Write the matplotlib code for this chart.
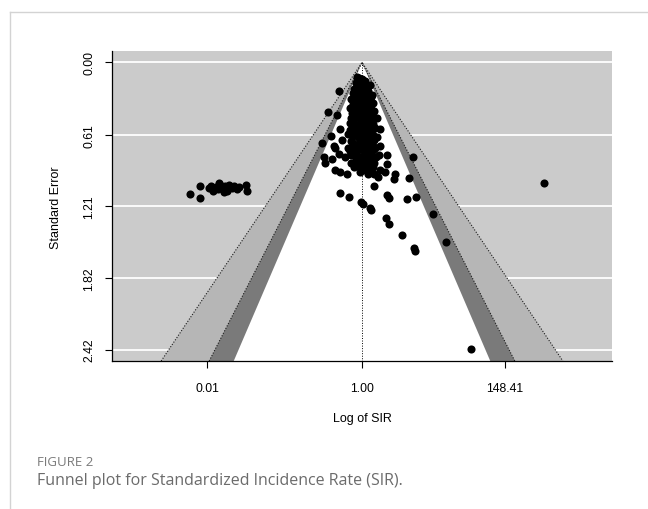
import matplotlib
matplotlib.use("Agg")
import matplotlib.pyplot as plt
from matplotlib.lines import Line2D

plt.rcParams['font.family'] = ['Liberation Sans', 'DejaVu Sans']

# studies: log(SIR) and standard error
# dense group around the apex
blob_log = [-0.10, 0.00, -0.20, 0.05, -0.12, 0.15, -0.25, 0.00, 0.20, -0.30,
            -0.08, 0.10, 0.30, -0.20, 0.02, -0.35, 0.18, -0.12, 0.35, -0.28,
            0.05, 0.25, -0.40, -0.05, 0.12, -0.22, 0.40, 0.00, -0.32, 0.22,
            -0.10, 0.08, 0.35, -0.25, -0.02, 0.18, -0.38, 0.28, -0.15, 0.05,
            0.42, -0.30, 0.15, -0.05, 0.30, -0.45, -0.20, 0.05, 0.22, -0.10,
            0.40, -0.35, 0.10, -0.02, 0.30, -0.22, 0.15, -0.45, 0.00, 0.35,
            -0.15, 0.22, -0.30, 0.08, -0.05, 0.45, -0.20, 0.25, 0.05, -0.35,
            0.15, -0.10, 0.35, 0.02, 0.28, -0.05,
            -0.15, 0.08, 0.12, -0.05, -0.18, 0.15, 0.25, -0.02, -0.25, 0.08,
            0.28, -0.15, 0.15, -0.32, 0.30, 0.05, -0.18, 0.12, 0.32, -0.05,
            0.25, -0.35, 0.10, -0.25, 0.35, -0.05, 0.20, -0.40, 0.10, -0.15,
            0.35, -0.30, 0.15, -0.05, 0.25, -0.28, 0.05, 0.40, -0.12, 0.25,
            -0.38, 0.10, -0.22, 0.30, 0.15, -0.10, 0.40, -0.25, 0.10, 0.20]
blob_se = [0.13, 0.14, 0.17, 0.18, 0.20, 0.21, 0.22, 0.23, 0.24, 0.26,
           0.26, 0.27, 0.29, 0.29, 0.30, 0.31, 0.31, 0.33, 0.34, 0.35,
           0.35, 0.37, 0.38, 0.38, 0.40, 0.40, 0.41, 0.42, 0.43, 0.44,
           0.45, 0.46, 0.47, 0.48, 0.49, 0.50, 0.51, 0.52, 0.53, 0.54,
           0.55, 0.56, 0.57, 0.58, 0.59, 0.60, 0.61, 0.62, 0.63, 0.64,
           0.65, 0.66, 0.67, 0.68, 0.69, 0.70, 0.71, 0.72, 0.73, 0.74,
           0.75, 0.76, 0.77, 0.78, 0.80, 0.80, 0.82, 0.82, 0.84, 0.85,
           0.86, 0.87, 0.88, 0.89, 0.90, 0.92,
           0.16, 0.16, 0.19, 0.21, 0.25, 0.25, 0.28, 0.28, 0.32, 0.33,
           0.33, 0.36, 0.36, 0.39, 0.39, 0.40, 0.43, 0.43, 0.44, 0.47,
           0.48, 0.47, 0.51, 0.52, 0.52, 0.55, 0.55, 0.57, 0.59, 0.59,
           0.61, 0.62, 0.64, 0.66, 0.66, 0.68, 0.70, 0.71, 0.72, 0.73,
           0.75, 0.76, 0.79, 0.79, 0.81, 0.83, 0.85, 0.88, 0.91, 0.94]

# scattered studies around the funnel
outer_log = [-0.16, 0.11, 0.27, -0.73, 0.33, -1.10, -0.80, 0.49, 0.59, -0.70,
             -1.00, -1.29, -0.91, -0.86, -0.64, -1.24, -1.18, -0.96, -0.75, -0.54,
             -0.37, -0.86, -0.70, -0.48, -0.27, 0.00, 0.22, 0.38, 0.51, 0.59,
             0.75, 0.81, 0.81, 0.54, 0.59, 0.43, 0.49, 1.07, 1.04, 1.53,
             1.65, -0.70, -0.41, -0.02, 0.04, 0.25, 0.29, 0.38, 0.81, 0.86,
             1.45, 1.74, 0.79, 0.86, 1.29, 2.29, 2.71, 1.67, 1.70, 3.51, 5.87]
outer_se = [0.12, 0.16, 0.19, 0.24, 0.275, 0.42, 0.44, 0.466, 0.565, 0.565,
            0.62, 0.677, 0.70, 0.725, 0.655, 0.795, 0.85, 0.81, 0.77, 0.795,
            0.78, 0.908, 0.927, 0.944, 0.866, 0.894, 0.908, 0.936, 0.964, 0.908,
            0.927, 0.852, 0.776, 0.78, 0.70, 0.725, 0.627, 0.936, 0.986, 0.978,
            0.80, 1.10, 1.13, 1.18, 1.19, 1.23, 1.24, 1.043, 1.12, 1.14,
            1.147, 1.13, 1.31, 1.36, 1.456, 1.28, 1.51, 1.56, 1.59, 2.416, 1.014]

# group of studies far to the left
left_log = [-5.56, -5.24, -5.24, -4.95, -4.88, -4.80, -4.72, -4.65, -4.58, -4.50,
            -4.42, -4.35, -4.28, -4.20, -4.12, -4.05, -3.98, -4.60, -4.45, -3.73,
            -3.71]
left_se = [1.105, 1.043, 1.14, 1.06, 1.04, 1.08, 1.05, 1.07, 1.03, 1.06,
           1.04, 1.08, 1.03, 1.06, 1.04, 1.07, 1.05, 1.02, 1.09, 1.037,
           1.085]

se_ticks = [0.00, 0.61, 1.21, 1.82, 2.42]
se_labels = ['0.00', '0.61', '1.21', '1.82', '2.42']
x_ticks = [-5, 0, 4.6]
x_labels = ['0.01', '1.00', '148.41']

# contour levels 99%, 95%, 90%
z_levels = [2.576, 1.96, 1.645]
shades = ['#b6b6b6', '#7a7a7a', 'white']

fig = plt.figure(figsize=(6.48, 5.10), dpi=100)
ax = fig.add_axes([112 / 648, 1 - 362 / 510, 500 / 648, 310 / 510])

se_max = 2.42
pad = 0.04 * se_max
bottom = se_max + pad
ax.set_ylim(bottom, -pad)
ax.set_xlim(-8.07, 8.07)
ax.set_facecolor('#cbcbcb')

for t in se_ticks:
    ax.axhline(t, color='white', lw=1.3, zorder=1)

for z, c in zip(z_levels, shades):
    ax.fill([-z * bottom, 0, z * bottom], [bottom, 0, bottom], color=c, lw=0, zorder=2)
for z in z_levels[:2]:
    ax.plot([-z * bottom, 0, z * bottom], [bottom, 0, bottom], color='#1a1a1a',
            ls=(0, (1, 1.5)), lw=0.8, zorder=3)
ax.plot([0, 0], [0, bottom], color='black', ls=(0, (1, 1.6)), lw=0.7, zorder=3)

ms = 34
ax.scatter(blob_log, blob_se, s=ms, color='black', lw=0, zorder=4, clip_on=False)
ax.scatter(outer_log, outer_se, s=ms, color='black', lw=0, zorder=4, clip_on=False)
ax.scatter(left_log, left_se, s=ms, color='black', lw=0, zorder=4, clip_on=False)

for s in ['top', 'right']:
    ax.spines[s].set_visible(False)
for s in ['left', 'bottom']:
    ax.spines[s].set_linewidth(0.9)
    ax.spines[s].set_zorder(5)

ax.set_yticks(se_ticks)
ax.set_yticklabels(se_labels, rotation=90, va='center', fontsize=8.8)
ax.set_xticks(x_ticks)
ax.set_xticklabels(x_labels, fontsize=8.8)
ax.tick_params(axis='both', direction='out', length=5, width=0.8, color='black')
ax.tick_params(axis='y', pad=7)
ax.tick_params(axis='x', pad=10)

fig.text(56 / 648, 1 - 208 / 510, 'Standard Error', rotation=90, ha='center', va='center',
         fontsize=9)
fig.text(362 / 648, 1 - 419 / 510, 'Log of SIR', ha='center', va='center', fontsize=9)

# caption below the plot
fig.text(37 / 648, 1 - 463 / 510, 'FIGURE 2', family=['Open Sans', 'DejaVu Sans'],
         fontsize=9.5, color='#7a7a7a', va='center')
fig.text(37 / 648, 1 - 481 / 510, 'Funnel plot for Standardized Incidence Rate (SIR).',
         family=['Open Sans', 'DejaVu Sans'], fontsize=11.5, color='#6b6b6b', va='center')

# thin frame round the figure panel
fig.add_artist(Line2D([10 / 648, 10 / 648], [0, 1 - 13 / 510], color='#d3d3d3', lw=1))
fig.add_artist(Line2D([10 / 648, 1], [1 - 13 / 510, 1 - 13 / 510], color='#d3d3d3', lw=1))

fig.savefig('out.png', dpi=100)
